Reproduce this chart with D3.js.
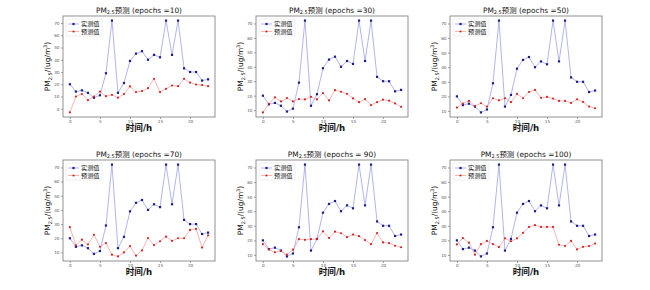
<!DOCTYPE html>
<html>
<head>
<meta charset="utf-8">
<script src="https://cdn.jsdelivr.net/npm/d3@7"></script>
<style>
  body { margin: 0; background: #fff; }
  svg { display: block; font-family: "DejaVu Sans", "Noto Sans CJK SC", sans-serif; }
</style>
</head>
<body>
<div id="chart"></div>
<script>
// ---- data ----
const hours = [0,1,2,3,4,5,6,7,8,9,10,11,12,13,14,15,16,17,18,19,20,21,22,23];
const actual = [20,14,15,13,9,11,29,72,13,21,39,45,47,40,44,42,72,44,72,33,30,30,23,24];
const epochLabels = ["epochs =10", "epochs =30", "epochs =50", "epochs =70", "epochs = 90", "epochs =100"];
const pred10  = [-3,10,12,7,10,14,10.3,11.4,9,12,18.2,13.6,14.4,16.8,24.4,13.6,16.3,19,18.4,24.4,21.4,19.8,19.3,18.4];
const pred30  = [8.4,14.4,18.8,16,18.3,16,17.6,17.4,19.2,17.4,21.8,16.7,23.8,22.7,21.3,18.1,15.5,17.6,13.5,15.5,17.2,16.5,14.6,12.3];
const pred50  = [12.3,15,16.9,13.4,15.3,13,18.7,17.3,18.7,16,21.7,18.7,23,24.4,19,19.6,18.5,16.9,16.9,15.5,18,16.2,13,11.8];
const pred70  = [27.8,15,19,15.6,22.5,14,16.6,8.4,7.2,10,14.5,7.7,11.4,20.2,15.2,17.9,21.1,18.2,20,20,25.9,26.6,13.4,22.1];
const pred90  = [17.4,13.8,11.8,12.7,10.2,13.6,20.8,20.4,20.8,20.8,26.2,21.7,26,24.9,22.2,24,22.9,20.2,17.4,25,18.6,18.1,16.3,15.3];
const pred100 = [17.2,21.6,18.4,10.2,17.4,19.6,17.4,15.4,21.4,19.4,21.4,25.2,29.2,30.4,29.2,29.2,29.2,17,16.1,19.6,13.8,15.6,16.1,17.8];
const predicted = [pred10, pred30, pred50, pred70, pred90, pred100];
const xTicks = [0,5,10,15,20];
const seriesNames = ["实测值", "预测值"];

// ---- layout ----
const W = 650, H = 290;
const colLeft = [63, 256, 450];
const rowTop = [16, 160];
const pw = 152, ph = 101;
const actLine = "#8d96e8", actMark = "#1c1c8a";
const preLine = "#f29494", preMark = "#d62424";

const svg = d3.select("#chart").append("svg")
  .attr("width", W).attr("height", H)
  .attr("viewBox", `0 0 ${W} ${H}`);

predicted.forEach((pred, k) => {
  const left = colLeft[k % 3], top = rowTop[Math.floor(k / 3)];
  const g = svg.append("g").attr("transform", `translate(${left},${top})`);

  // matplotlib-like 5% margins
  const x = d3.scaleLinear().domain([-1.15, 24.15]).range([0, pw]);
  const lo = Math.min(d3.min(actual), d3.min(pred)), hi = Math.max(d3.max(actual), d3.max(pred));
  const pad = (hi - lo) * 0.05;
  const y = d3.scaleLinear().domain([lo - pad, hi + pad]).range([ph, 0]);
  const yTicks = d3.range(Math.ceil(lo / 10) * 10, hi + 0.1, 10);

  // axes
  const xAxis = g.append("g").attr("transform", `translate(0,${ph})`)
    .call(d3.axisBottom(x).tickValues(xTicks).tickSize(2).tickPadding(1.5));
  const yAxis = g.append("g")
    .call(d3.axisLeft(y).tickValues(yTicks).tickSize(2).tickPadding(1.5));
  [xAxis, yAxis].forEach(a => {
    a.select(".domain").remove();
    a.selectAll("line").attr("stroke", "#666").attr("stroke-width", 0.6);
    a.selectAll("text").attr("font-size", 4.2).attr("fill", "#555")
      .attr("font-family", "DejaVu Sans");
  });

  g.append("rect").attr("width", pw).attr("height", ph)
    .attr("fill", "none").attr("stroke", "#777").attr("stroke-width", 0.8);

  // lines
  const line = d3.line().x((d, i) => x(hours[i])).y(d => y(d));
  g.append("path").datum(actual).attr("d", line)
    .attr("fill", "none").attr("stroke", actLine).attr("stroke-width", 0.7);
  g.append("path").datum(pred).attr("d", line)
    .attr("fill", "none").attr("stroke", preLine).attr("stroke-width", 0.7);
  g.selectAll(".ma").data(actual).join("rect")
    .attr("x", (d, i) => x(hours[i]) - 1.1).attr("y", d => y(d) - 1.1)
    .attr("width", 2.2).attr("height", 2.2).attr("fill", actMark);
  g.selectAll(".mp").data(pred).join("circle")
    .attr("cx", (d, i) => x(hours[i])).attr("cy", d => y(d))
    .attr("r", 1.1).attr("fill", preMark);

  // legend
  const lg = g.append("g").attr("transform", "translate(3,3)");
  lg.append("rect").attr("width", 36).attr("height", 17).attr("rx", 1.5)
    .attr("fill", "#fff").attr("fill-opacity", 0.8)
    .attr("stroke", "#ddd").attr("stroke-width", 0.5);
  seriesNames.forEach((name, j) => {
    const yy = 5 + j * 7.5;
    lg.append("line").attr("x1", 2).attr("x2", 13).attr("y1", yy).attr("y2", yy)
      .attr("stroke", j ? preLine : actLine).attr("stroke-width", 0.7);
    if (j) lg.append("circle").attr("cx", 7.5).attr("cy", yy).attr("r", 1.1).attr("fill", preMark);
    else lg.append("rect").attr("x", 6.4).attr("y", yy - 1.1).attr("width", 2.2).attr("height", 2.2).attr("fill", actMark);
    lg.append("text").attr("x", 15).attr("y", yy + 2.2)
      .attr("font-size", 6.2).attr("fill", "#111").text(name);
  });

  // title
  const t = g.append("text").attr("x", pw / 2).attr("y", -3.5)
    .attr("text-anchor", "middle").attr("font-size", 7.4).attr("fill", "#111");
  t.append("tspan").text("PM");
  t.append("tspan").attr("font-size", 5).attr("dy", 1.8).text("2.5");
  t.append("tspan").attr("dy", -1.8).text("预测 (" + epochLabels[k] + ")");

  // y label
  const yl = g.append("text")
    .attr("transform", `translate(-13,${ph / 2}) rotate(-90)`)
    .attr("text-anchor", "middle").attr("font-size", 7.4).attr("fill", "#111");
  yl.append("tspan").text("PM");
  yl.append("tspan").attr("font-size", 5).attr("dy", 1.8).text("2.5");
  yl.append("tspan").attr("dy", -1.8).text("/(ug/m");
  yl.append("tspan").attr("font-size", 5).attr("dy", -3).text("3");
  yl.append("tspan").attr("dy", 3).text(")");

  // x label
  g.append("text").attr("x", pw / 2).attr("y", ph + 14)
    .attr("text-anchor", "middle").attr("font-size", 8.6).attr("font-weight", "bold")
    .attr("fill", "#111").text("时间/h");
});
</script>
</body>
</html>
